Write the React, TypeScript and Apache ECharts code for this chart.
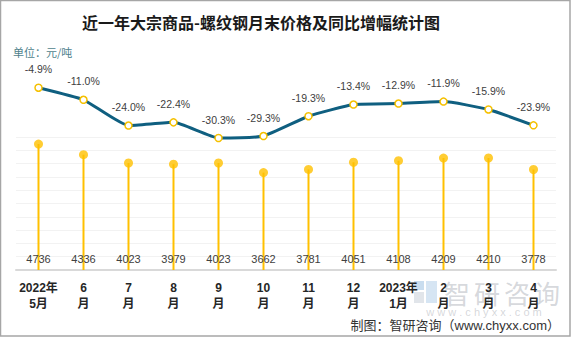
import React, { useEffect, useRef } from "react";
import * as echarts from "echarts";

const categories = [
  "2022年\n5月", "6\n月", "7\n月", "8\n月", "9\n月", "10\n月",
  "11\n月", "12\n月", "2023年\n1月", "2\n月", "3\n月", "4\n月",
];
const prices = [4736, 4336, 4023, 3979, 4023, 3662, 3781, 4051, 4108, 4209, 4210, 3778];
const yoyGrowth = [-4.9, -11.0, -24.0, -22.4, -30.3, -29.3, -19.3, -13.4, -12.9, -11.9, -15.9, -23.9];

const FONT = "'Liberation Sans', 'Noto Sans CJK SC', sans-serif";
const CJK = "'Noto Sans CJK SC', sans-serif";

export default function App() {
  const ref = useRef<HTMLDivElement>(null);
  useEffect(() => {
    if (!ref.current) return;
    const chart = echarts.init(ref.current, undefined, { renderer: "svg" });
    const wmChars = ["智", "研", "咨", "询"];
    chart.setOption({
      animation: false,
      backgroundColor: "#ffffff",
      grid: [
        { left: 16, right: 15, top: 137, bottom: 67 },
        { left: 16, right: 15, top: 78, height: 79.2 },
      ],
      xAxis: [
        {
          type: "category",
          gridIndex: 0,
          data: categories,
          axisLine: { show: true, lineStyle: { color: "#d9d9d9", width: 2 } },
          axisTick: { show: false },
          axisLabel: {
            color: "#262626",
            fontWeight: "bold",
            fontSize: 12,
            lineHeight: 16,
            margin: 10,
            interval: 0,
            fontFamily: FONT,
          },
        },
        {
          type: "category",
          gridIndex: 1,
          data: categories,
          show: false,
        },
      ],
      yAxis: [
        {
          type: "value",
          gridIndex: 0,
          min: 0,
          max: 5000,
          interval: 500,
          show: true,
          axisLine: { show: false },
          axisTick: { show: false },
          axisLabel: { show: false },
          splitLine: { show: true, lineStyle: { color: "#f2f2f2", width: 1 } },
        },
        {
          type: "value",
          gridIndex: 1,
          min: -40,
          max: 0,
          show: false,
          splitLine: { show: false },
        },
      ],
      series: [
        {
          type: "bar",
          xAxisIndex: 0,
          yAxisIndex: 0,
          data: prices,
          barWidth: 2,
          itemStyle: { color: "#ffc000" },
          label: {
            show: true,
            position: "insideBottom",
            distance: 6,
            color: "#404040",
            fontSize: 11,
            fontFamily: FONT,
          },
          z: 2,
        },
        {
          type: "scatter",
          xAxisIndex: 0,
          yAxisIndex: 0,
          data: prices,
          symbol: "circle",
          symbolSize: 9,
          itemStyle: { color: "#ffc000" },
          z: 3,
        },
        {
          type: "line",
          xAxisIndex: 1,
          yAxisIndex: 1,
          data: yoyGrowth,
          smooth: 0.15,
          symbol: "circle",
          symbolSize: 7,
          lineStyle: { color: "#0f5f80", width: 3 },
          itemStyle: { color: "#ffffff", borderColor: "#f5c000", borderWidth: 1.5 },
          label: {
            show: true,
            position: "top",
            distance: 9,
            color: "#404040",
            fontSize: 10.5,
            fontFamily: FONT,
            formatter: (p: any) => p.value.toFixed(1) + "%",
          },
          z: 5,
        },
      ],
      graphic: [
        {
          type: "rect",
          shape: { x: 0.5, y: 0.5, width: 569.5, height: 335.5 },
          style: { fill: "none", stroke: "#a6a6a6", lineWidth: 1.5 },
          silent: true,
          z: 100,
        },
        {
          type: "text",
          x: 261,
          y: 21.5,
          style: {
            text: "近一年大宗商品-螺纹钢月末价格及同比增幅统计图",
            fontSize: 16,
            fontWeight: "bold",
            fill: "#1a1a1a",
            fontFamily: CJK,
            textAlign: "center",
            textVerticalAlign: "middle",
          },
        },
        {
          type: "text",
          x: 13,
          y: 52,
          style: {
            text: "单位：元/吨",
            fontSize: 11,
            fill: "#4f7f8c",
            fontFamily: CJK,
            textAlign: "left",
            textVerticalAlign: "middle",
          },
        },
        {
          type: "rect",
          shape: { x: 414, y: 281, width: 10, height: 9 },
          style: { fill: "rgba(120,170,215,0.4)" },
          z: 0,
        },
        {
          type: "rect",
          shape: { x: 426, y: 281, width: 11, height: 22 },
          style: { fill: "rgba(120,170,215,0.3)" },
          z: 0,
        },
        {
          type: "rect",
          shape: { x: 414, y: 292, width: 10, height: 11 },
          style: { fill: "rgba(170,180,195,0.35)" },
          z: 0,
        },
        ...wmChars.map((c, i) => ({
          type: "text",
          x: 457 + i * 30,
          y: 292,
          z: 0,
          style: {
            text: c,
            fontSize: 26,
            fill: "rgba(150,155,165,0.4)",
            fontFamily: CJK,
            textAlign: "center",
            textVerticalAlign: "middle",
          },
        })),
        {
          type: "text",
          x: 484,
          y: 312,
          z: 0,
          style: {
            text: "w w w . c h y x x . c o m",
            fontSize: 11,
            fill: "rgba(150,155,165,0.4)",
            fontFamily: FONT,
            textAlign: "center",
            textVerticalAlign: "middle",
          },
        },
        {
          type: "text",
          x: 560,
          y: 325,
          style: {
            text: "制图：智研咨询（www.chyxx.com）",
            fontSize: 13,
            fill: "#333333",
            fontFamily: FONT,
            textAlign: "right",
            textVerticalAlign: "middle",
          },
        },
      ],
    });
    return () => chart.dispose();
  }, []);
  return (
    <div
      ref={ref}
      style={{ position: "fixed", left: 0, top: 0, width: 571, height: 337 }}
    />
  );
}
